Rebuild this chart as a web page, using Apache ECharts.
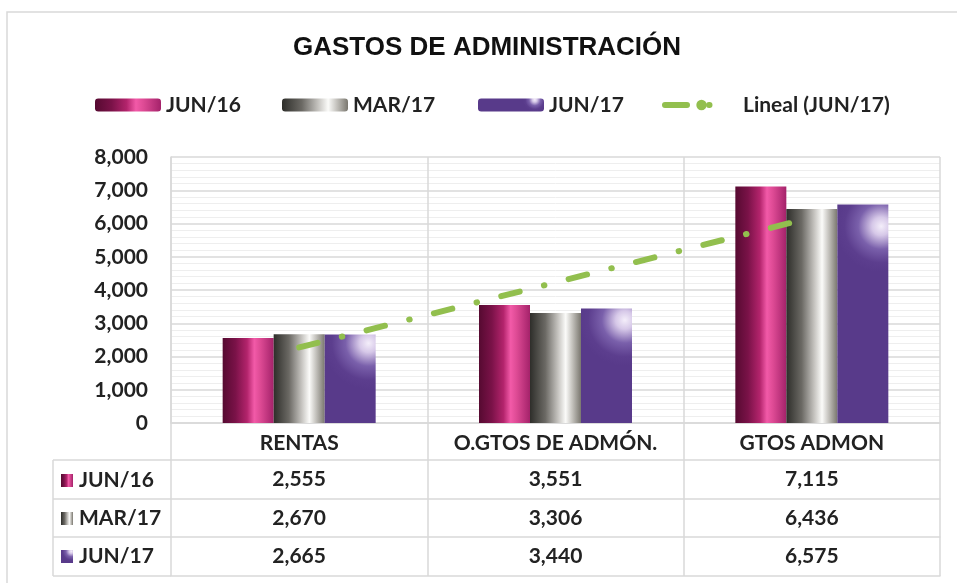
<!DOCTYPE html>
<html>
<head>
<meta charset="utf-8">
<script src="https://cdn.jsdelivr.net/npm/echarts@6/dist/echarts.min.js"></script>
<style>
html,body{margin:0;padding:0;background:#fff;}
#chart{width:957px;height:583px;}
</style>
</head>
<body>
<div id="chart"></div>
<script>
const chartTitle = 'GASTOS DE ADMINISTRACIÓN';
const categories = ['RENTAS', 'O.GTOS DE ADMÓN.', 'GTOS ADMON'];
const seriesNames = ['JUN/16', 'MAR/17', 'JUN/17'];
const jun16 = [2555, 3551, 7115];
const mar17 = [2670, 3306, 6436];
const jun17 = [2665, 3440, 6575];
const trendName = 'Lineal (JUN/17)';
const trendJun17 = [2272, 4227, 6182];
const yMin = 0, yMax = 8000, yStep = 1000;

const FONT = 'Lato';
const TXT = '#222';
const GRID_C = '#d9d9d9';
const GREEN = '#92bf4e';

function fmt(v) { return String(v).replace(/\B(?=(\d{3})+(?!\d))/g, ','); }

const G = echarts.graphic;
const fills = [
  new G.LinearGradient(0, 0, 1, 0, [
    {offset: 0, color: '#560a31'}, {offset: 0.25, color: '#7a1248'},
    {offset: 0.48, color: '#b3246c'}, {offset: 0.62, color: '#f25aa8'},
    {offset: 0.74, color: '#dd4a94'}, {offset: 1, color: '#a4226a'}
  ]),
  new G.LinearGradient(0, 0, 1, 0, [
    {offset: 0, color: '#2e2e2a'}, {offset: 0.3, color: '#6b6964'},
    {offset: 0.55, color: '#c6c4c0'}, {offset: 0.7, color: '#fbfbf9'},
    {offset: 0.83, color: '#c4c2bd'}, {offset: 1, color: '#7a776f'}
  ]),
  new G.RadialGradient(0.86, 0.1, 0.9, [
    {offset: 0, color: '#f4eefa'}, {offset: 0.2, color: '#d6c8e8'},
    {offset: 0.5, color: '#7a60ab'}, {offset: 0.8, color: '#5c3e8e'}, {offset: 1, color: '#583a8a'}
  ])
];
const values = [jun16, mar17, jun17];

const barSeries = seriesNames.map((n, i) => ({
  name: n, type: 'bar', data: values[i], barWidth: 51, barGap: '0%',
  itemStyle: {color: fills[i]}, z: 2
}));

const trendSeries = {
  name: trendName, type: 'line', data: trendJun17, symbol: 'none', z: 5,
  lineStyle: {color: GREEN, width: 6, type: [19, 25, 0.5, 25], cap: 'round'},
  itemStyle: {color: GREEN}
};

const legendText = {fontFamily: FONT, fontWeight: 'bold', fontSize: 21, color: TXT, lineHeight: 24};
const legendLefts = [95, 282, 478];
const legends = seriesNames.map((n, i) => ({
  data: [n], left: legendLefts[i], top: 93, padding: 0, itemWidth: 66, itemHeight: 13,
  itemGap: 0, textStyle: legendText, selectedMode: false
}));
legends.push({
  data: [{name: trendName, lineStyle: {color: GREEN, width: 6, type: [22, 22, 0.5, 60], cap: 'round'}}],
  left: 662, top: 93, padding: 0, itemWidth: 73, itemHeight: 13, textStyle: legendText, selectedMode: false
});

const labelStyle = {fontFamily: FONT, fontWeight: 'bold', fontSize: 21, color: TXT};

const rowOffsets = [37, 76, 114];
const tableAxes = values.map((arr, i) => ({
  type: 'category', data: categories, position: 'bottom', offset: rowOffsets[i],
  axisLine: {show: true, lineStyle: {color: GRID_C, width: 1.5}},
  axisTick: {show: false}, splitLine: {show: false},
  axisLabel: Object.assign({margin: 9, interval: 0, formatter: (v, idx) => fmt(arr[idx])}, labelStyle)
}));
tableAxes.push({
  type: 'category', data: categories, position: 'bottom', offset: 153,
  axisLine: {show: true, lineStyle: {color: GRID_C, width: 1.5}},
  axisTick: {show: false}, splitLine: {show: false}, axisLabel: {show: false}
});

const rowCenters = [480, 518, 556];
const graphics = [
  {type: 'rect', shape: {x: 7, y: 12, width: 960, height: 600}, style: {fill: 'none', stroke: GRID_C, lineWidth: 1.5}, silent: true, z: -10},
  {type: 'line', shape: {x1: 53, y1: 460, x2: 171, y2: 460}, style: {stroke: GRID_C, lineWidth: 1.5}},
  {type: 'line', shape: {x1: 53, y1: 499, x2: 171, y2: 499}, style: {stroke: GRID_C, lineWidth: 1.5}},
  {type: 'line', shape: {x1: 53, y1: 537, x2: 171, y2: 537}, style: {stroke: GRID_C, lineWidth: 1.5}},
  {type: 'line', shape: {x1: 53, y1: 576, x2: 171, y2: 576}, style: {stroke: GRID_C, lineWidth: 1.5}},
  {type: 'line', shape: {x1: 53, y1: 460, x2: 53, y2: 576}, style: {stroke: GRID_C, lineWidth: 1.5}}
];
seriesNames.forEach((n, i) => {
  graphics.push({type: 'rect', shape: {x: 61, y: rowCenters[i] - 6, width: 12, height: 13}, style: {fill: fills[i]}});
  graphics.push({type: 'text', x: 79, y: rowCenters[i], style: {text: n, fontFamily: FONT, fontWeight: 'bold', fontSize: 21, fill: TXT, verticalAlign: 'middle'}});
});

const option = {
  animation: false,
  backgroundColor: '#fff',
  title: {
    text: chartTitle, left: 293, top: 35, padding: 0,
    textStyle: {fontFamily: 'Liberation Sans', fontWeight: 'bold', fontSize: 26, color: '#111'}
  },
  legend: legends,
  grid: {left: 171, right: 17, top: 157, bottom: 160, containLabel: false},
  xAxis: [{
    type: 'category', data: categories,
    axisLine: {show: true, lineStyle: {color: GRID_C, width: 1.5}},
    axisTick: {show: true, interval: 0, alignWithLabel: false, length: 153, lineStyle: {color: GRID_C, width: 1.5}},
    splitLine: {show: true, interval: 0, lineStyle: {color: GRID_C, width: 1.5}},
    axisLabel: Object.assign({margin: 10, interval: 0}, labelStyle)
  }].concat(tableAxes),
  yAxis: {
    type: 'value', min: yMin, max: yMax, interval: yStep,
    axisLine: {show: true, lineStyle: {color: GRID_C, width: 1.5}},
    axisTick: {show: false},
    splitLine: {show: true, lineStyle: {color: GRID_C, width: 1.5}},
    minorTick: {show: false, splitNumber: 5},
    minorSplitLine: {show: true, lineStyle: {color: '#eeeeee', width: 1}},
    axisLabel: Object.assign({margin: 23, formatter: v => fmt(v)}, labelStyle)
  },
  series: barSeries.concat([trendSeries]),
  graphic: graphics
};

const chart = echarts.init(document.getElementById('chart'), null, {renderer: 'canvas'});
chart.setOption(option);
</script>
</body>
</html>
